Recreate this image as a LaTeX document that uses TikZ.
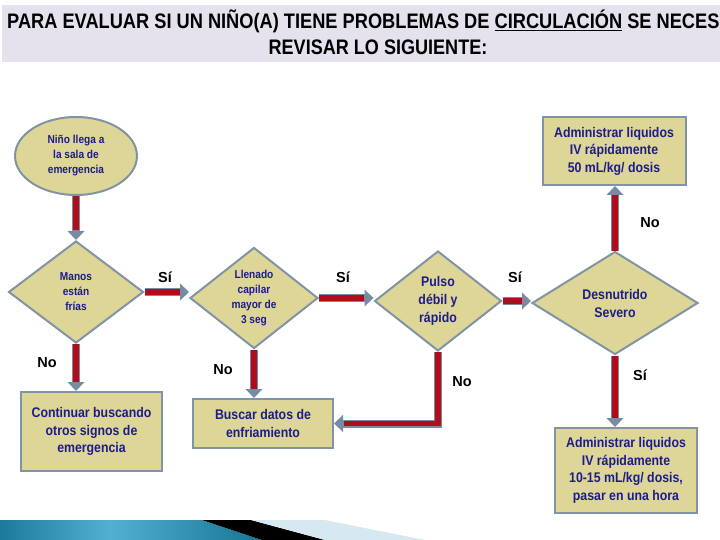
\documentclass[tikz,border=0pt]{standalone}
\usepackage{fontspec}
\setmainfont{Liberation Sans}
\newfontfamily\nodefont{Liberation Sans}[FakeStretch=0.88]
\newfontfamily\hdfont{Liberation Sans}[FakeStretch=0.86]
\newfontfamily\hdfontw{Liberation Sans}[FakeStretch=0.868]
\usetikzlibrary{shapes.geometric,arrows.meta,calc}
\definecolor{khaki}{RGB}{222,214,150}
\definecolor{bord}{RGB}{128,148,165}
\definecolor{navy}{RGB}{28,28,140}
\definecolor{ared}{RGB}{178,12,28}
\definecolor{agrey}{RGB}{118,140,162}
\definecolor{hdbg}{RGB}{229,226,237}
\definecolor{tealA}{RGB}{28,122,155}
\definecolor{tealB}{RGB}{82,176,210}
\definecolor{tealC}{RGB}{22,118,148}
\definecolor{lblue}{RGB}{214,232,240}
\tikzset{
  box/.style={draw=bord, line width=2pt, fill=khaki, align=center, text=navy,
    font=\nodefont\bfseries\fontsize{14}{17.5}\selectfont, inner sep=0pt},
  dia/.style={diamond, draw=bord, line width=2pt, fill=khaki, align=center, text=navy, inner sep=0pt},
  smalltxt/.style={font=\nodefont\bfseries\fontsize{11.5}{15}\selectfont},
  midtxt/.style={font=\nodefont\bfseries\fontsize{14}{18}\selectfont},
  lbl/.style={font=\bfseries\fontsize{14.5}{16}\selectfont, text=black},
  aout/.style={line width=8pt, draw=agrey, -{Triangle[length=9pt,width=17pt,line width=0pt]}},
  ain/.style={line width=5.5pt, draw=ared, shorten >=9.5pt}
}
\begin{document}
\begin{tikzpicture}[x=1pt,y=-1pt]
\useasboundingbox (0,0) rectangle (720,540);
\clip (0,0) rectangle (720,540);
% header
\fill[hdbg] (2,5) rectangle (720,62);
\node[anchor=base west, inner sep=0pt, font=\hdfontw\bfseries\fontsize{21}{24}\selectfont] (h1) at (7,29)
  {PARA EVALUAR SI UN NIÑO(A) TIENE PROBLEMAS DE \underline{CIRCULACIÓN} SE NECES};
\node[anchor=base, inner sep=0pt, font=\hdfont\bfseries\fontsize{21}{24}\selectfont] (h2) at (378,55)
  {REVISAR LO SIGUIENTE:};
% bottom decoration
\shade[left color=tealA, right color=tealB] (0,520) rectangle (110,540);
\shade[left color=tealB, right color=tealC] (110,520) -- (202,520) -- (262,540) -- (110,540) -- cycle;
\fill[black] (202,520) -- (251,520) -- (325,540) -- (262,540) -- cycle;
\fill[lblue] (251,520) -- (325,520) -- (425,540) -- (325,540) -- cycle;
% nodes
\node[ellipse, draw=bord, line width=2pt, fill=khaki, text=navy, align=center, inner sep=0pt,
  minimum width=122pt, minimum height=78pt, smalltxt] (n1) at (76,156)
  {Niño llega a\\la sala de\\emergencia};
\node[dia, minimum width=135pt, minimum height=102pt, smalltxt] (d1) at (76,292)
  {Manos\\están\\frías};
\node[dia, minimum width=128pt, minimum height=101pt, smalltxt] (d2) at (254,298)
  {Llenado\\capilar\\mayor de\\3 seg};
\node[dia, minimum width=127pt, minimum height=100pt, midtxt] (d3) at (438,301)
  {Pulso\\débil y\\rápido};
\node[dia, minimum width=166pt, minimum height=103pt, midtxt] (d4) at (615,303)
  {Desnutrido\\Severo};
\node[box, minimum width=143pt, minimum height=68pt] (b1) at (614,151)
  {Administrar liquidos\\IV rápidamente\\50 mL/kg/ dosis};
\node[box, minimum width=141pt, minimum height=79pt] (b2) at (91.5,431.5)
  {Continuar buscando\\otros signos de\\emergencia};
\node[box, minimum width=140pt, minimum height=49pt] (b3) at (263,423.5)
  {Buscar datos de\\enfriamiento};
\node[box, minimum width=142pt, minimum height=85pt] (b4) at (626,470.5)
  {Administrar liquidos\\IV rápidamente\\10-15 mL/kg/ dosis,\\pasar en una hora};
% connectors
\draw[aout] (n1.south) -- (d1.north);
\draw[ain] (n1.south) -- (d1.north);
\draw[aout] (d1.east) -- (d2.west |- d1.east);
\draw[ain] (d1.east) -- (d2.west |- d1.east);
\draw[aout] (d2.east) -- (d3.west |- d2.east);
\draw[ain] (d2.east) -- (d3.west |- d2.east);
\draw[aout] (d3.east) -- (d4.west |- d3.east);
\draw[ain] (d3.east) -- (d4.west |- d3.east);
\draw[aout] (d4.north) -- (d4.north |- b1.south);
\draw[ain] (d4.north) -- (d4.north |- b1.south);
\draw[aout] (d4.south) -- (d4.south |- b4.north);
\draw[ain] (d4.south) -- (d4.south |- b4.north);
\draw[aout] (d1.south) -- (d1.south |- b2.north);
\draw[ain] (d1.south) -- (d1.south |- b2.north);
\draw[aout] (d2.south) -- (d2.south |- b3.north);
\draw[ain] (d2.south) -- (d2.south |- b3.north);
\draw[aout, miter limit=4] (d3.south) |- (b3.east);
\draw[ain] (d3.south) |- (b3.east);
% labels
\node[lbl] (s1) at (165,277) {Sí};
\node[lbl] (s2) at (343,277) {Sí};
\node[lbl] (s3) at (515,277) {Sí};
\node[lbl] (s4) at (640,375) {Sí};
\node[lbl] (o1) at (47,363) {No};
\node[lbl] (o2) at (223,370) {No};
\node[lbl] (o3) at (462,382) {No};
\node[lbl] (o4) at (650,223) {No};
\end{tikzpicture}
\end{document}
